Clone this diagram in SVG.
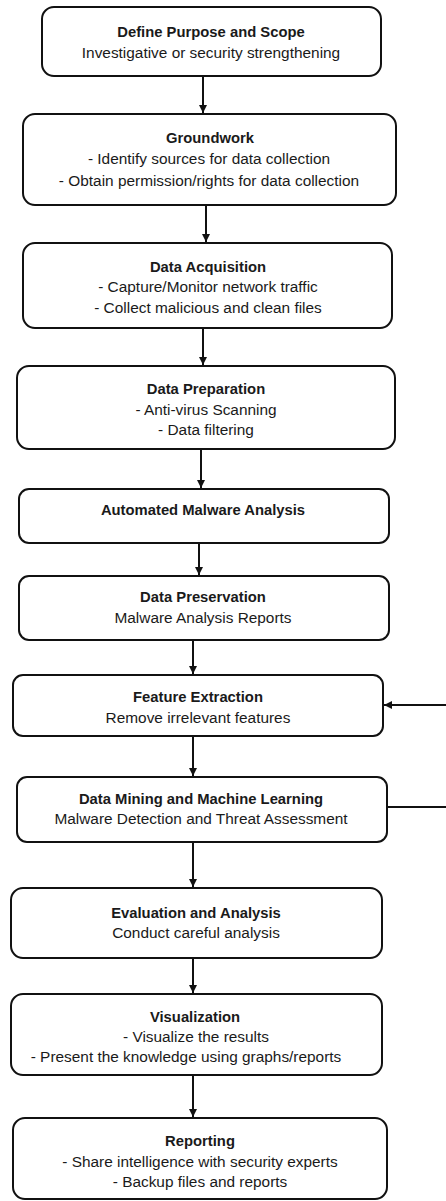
<svg xmlns="http://www.w3.org/2000/svg" width="446" height="1201" viewBox="0 0 446 1201">
<style>
.box{fill:#fff;stroke:#111;stroke-width:2}
text{font-family:"Liberation Sans",Arial,sans-serif;font-size:15.4px;fill:#1a1a1a;text-anchor:middle}
.t{font-weight:bold;font-size:14.8px}
.c{stroke:#111;stroke-width:2;fill:none}
</style>
<defs>
<marker id="ah" markerWidth="10" markerHeight="10" refX="9" refY="5" orient="auto" markerUnits="userSpaceOnUse">
<path d="M1,1 L9,5 L1,9 Z" fill="#111"/>
</marker>
</defs>
<rect width="446" height="1201" fill="#fff"/>
<g id="connectors">
<line class="c" x1="203" y1="76" x2="203" y2="113" marker-end="url(#ah)"/>
<line class="c" x1="206" y1="205" x2="206" y2="242" marker-end="url(#ah)"/>
<line class="c" x1="203" y1="328" x2="203" y2="365" marker-end="url(#ah)"/>
<line class="c" x1="201" y1="449" x2="201" y2="488" marker-end="url(#ah)"/>
<line class="c" x1="199" y1="543" x2="199" y2="575" marker-end="url(#ah)"/>
<line class="c" x1="193" y1="640" x2="193" y2="674" marker-end="url(#ah)"/>
<line class="c" x1="193" y1="736" x2="193" y2="776" marker-end="url(#ah)"/>
<line class="c" x1="193" y1="842" x2="193" y2="887" marker-end="url(#ah)"/>
<line class="c" x1="193" y1="958" x2="193" y2="993" marker-end="url(#ah)"/>
<line class="c" x1="193" y1="1075" x2="193" y2="1117" marker-end="url(#ah)"/>
<line class="c" x1="446" y1="705" x2="384" y2="705" marker-end="url(#ah)"/>
<line class="c" x1="387" y1="807" x2="446" y2="807"/>
</g>
<g id="n1"><rect class="box" x="42" y="7" width="339" height="69" rx="12"/>
<text class="t" x="211" y="37">Define Purpose and Scope</text>
<text x="211" y="58">Investigative or security strengthening</text></g>
<g id="n2"><rect class="box" x="23" y="114" width="373" height="91" rx="12"/>
<text class="t" x="210" y="143">Groundwork</text>
<text x="209" y="164">-  Identify sources for data collection</text>
<text x="209" y="186">- Obtain permission/rights for data collection</text></g>
<g id="n3"><rect class="box" x="23" y="243" width="369" height="85" rx="12"/>
<text class="t" x="208" y="272">Data Acquisition</text>
<text x="208" y="292">- Capture/Monitor network traffic</text>
<text x="208" y="313">- Collect malicious and clean files</text></g>
<g id="n4"><rect class="box" x="17" y="366" width="378" height="83" rx="12"/>
<text class="t" x="206" y="394">Data Preparation</text>
<text x="206" y="415">- Anti-virus Scanning</text>
<text x="206" y="435">- Data filtering</text></g>
<g id="n5"><rect class="box" x="19" y="489" width="370" height="54" rx="10"/>
<text class="t" x="203" y="515">Automated Malware Analysis</text></g>
<g id="n6"><rect class="box" x="19" y="576" width="370" height="64" rx="10"/>
<text class="t" x="203" y="602">Data Preservation</text>
<text x="203" y="623">Malware Analysis Reports</text></g>
<g id="n7"><rect class="box" x="13" y="675" width="370" height="61" rx="10"/>
<text class="t" x="198" y="702">Feature Extraction</text>
<text x="198" y="723">Remove irrelevant features</text></g>
<g id="n8"><rect class="box" x="17" y="777" width="370" height="65" rx="10"/>
<text class="t" x="201" y="804">Data Mining and Machine Learning</text>
<text x="201" y="824">Malware Detection and Threat Assessment</text></g>
<g id="n9"><rect class="box" x="11" y="888" width="371" height="70" rx="12"/>
<text class="t" x="196" y="918">Evaluation and Analysis</text>
<text x="196" y="938">Conduct careful analysis</text></g>
<g id="n10"><rect class="box" x="11" y="994" width="371" height="81" rx="12"/>
<text class="t" x="195" y="1022">Visualization</text>
<text x="196" y="1042">- Visualize the results</text>
<text x="186" y="1062">- Present the knowledge using graphs/reports</text></g>
<g id="n11"><rect class="box" x="13" y="1118" width="374" height="81" rx="12"/>
<text class="t" x="200" y="1146">Reporting</text>
<text x="200" y="1167">- Share intelligence with security experts</text>
<text x="200" y="1187">- Backup files and reports</text></g>
</svg>
